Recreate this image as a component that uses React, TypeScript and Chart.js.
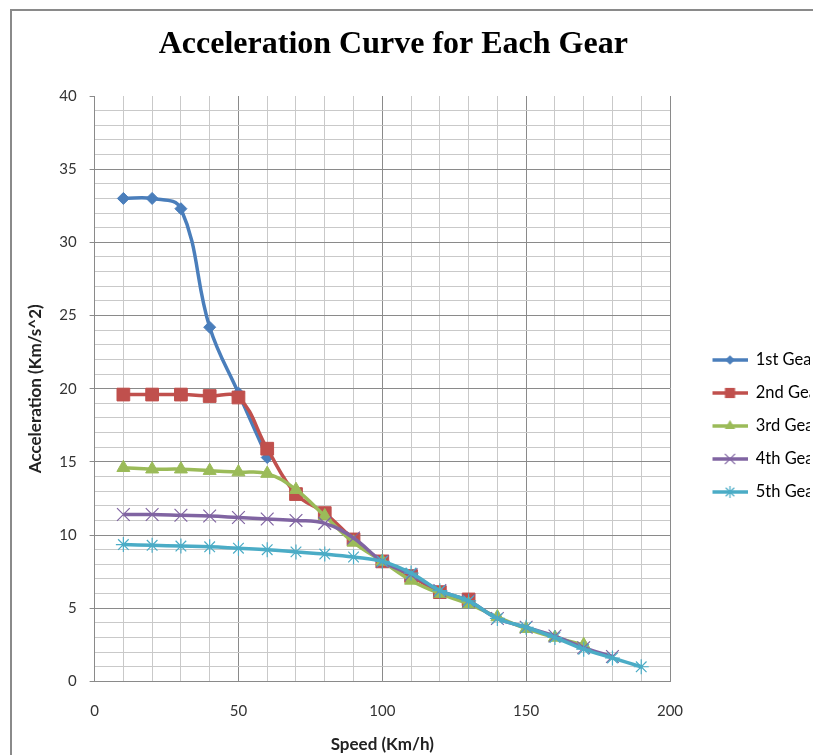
import React, { useEffect, useRef } from 'react';
import { Chart, registerables } from 'chart.js';

Chart.register(...registerables);

// ---- data ----
const speeds = [10, 20, 30, 40, 50, 60, 70, 80, 90, 100, 110, 120, 130, 140, 150, 160, 170, 180, 190];
const gear1 = [33.0, 33.0, 32.3, 24.2, 19.7, 15.3];
const gear2 = [19.6, 19.6, 19.6, 19.5, 19.4, 15.9, 12.8, 11.5, 9.7, 8.2, 7.2, 6.1, 5.6];
const gear3 = [14.6, 14.5, 14.5, 14.4, 14.3, 14.2, 13.1, 11.3, 9.5, 8.2, 6.9, 6.0, 5.3, 4.4, 3.6, 3.0, 2.5];
const gear4 = [11.4, 11.4, 11.35, 11.3, 11.2, 11.1, 11.0, 10.8, 9.8, 8.2, 7.3, 6.2, 5.5, 4.3, 3.7, 3.1, 2.3, 1.7];
const gear5 = [9.35, 9.3, 9.25, 9.2, 9.1, 9.0, 8.85, 8.7, 8.5, 8.2, 7.4, 6.2, 5.5, 4.3, 3.7, 3.0, 2.2, 1.6, 1.0];
const seriesNames = ['1st Gear', '2nd Gear', '3rd Gear', '4th Gear', '5th Gear'];
const seriesValues = [gear1, gear2, gear3, gear4, gear5];
const chartTitle = 'Acceleration Curve for Each Gear';
const xTitle = 'Speed (Km/h)';
const yTitle = 'Acceleration (Km/s^2)';
const xMin = 0, xMax = 200, xStep = 10, xLabelEvery = 50;
const yMin = 0, yMax = 40, yStep = 1, yLabelEvery = 5;

// ---- styles ----
const colors = ['#4A7EBB', '#C0504D', '#9BBB59', '#8064A2', '#4BACC6'];
const markerStyles = ['rectRot', 'rect', 'triangle', 'crossRot', 'star'];
const markerRadius = [6, 9, 7.5, 9, 7.5];
const markerBorder = [1, 1, 1, 1.2, 1.2];
const majorGrid = '#8a8a8a';
const minorGrid = '#c9c9c9';

function legendIcon(color: string, style: string, r: number, bw: number): HTMLCanvasElement {
  const c = document.createElement('canvas');
  c.width = 61;
  c.height = 20;
  const ctx = c.getContext('2d')!;
  const cy = 10;
  ctx.strokeStyle = color;
  ctx.lineWidth = 3.5;
  ctx.beginPath();
  ctx.moveTo(26, cy);
  ctx.lineTo(61, cy);
  ctx.stroke();
  const cx = 43.5;
  ctx.fillStyle = color;
  ctx.lineWidth = bw;
  ctx.beginPath();
  if (style === 'rectRot') {
    ctx.moveTo(cx, cy - r); ctx.lineTo(cx + r, cy); ctx.lineTo(cx, cy + r); ctx.lineTo(cx - r, cy); ctx.closePath();
    ctx.fill();
  } else if (style === 'rect') {
    const s = r * Math.SQRT1_2;
    ctx.rect(cx - s, cy - s, 2 * s, 2 * s);
    ctx.fill();
  } else if (style === 'triangle') {
    ctx.moveTo(cx, cy - r);
    ctx.lineTo(cx + r * Math.sin(2 * Math.PI / 3), cy - r * Math.cos(2 * Math.PI / 3));
    ctx.lineTo(cx + r * Math.sin(4 * Math.PI / 3), cy - r * Math.cos(4 * Math.PI / 3));
    ctx.closePath();
    ctx.fill();
  } else {
    const d = r * Math.SQRT1_2;
    ctx.moveTo(cx - d, cy - d); ctx.lineTo(cx + d, cy + d);
    ctx.moveTo(cx + d, cy - d); ctx.lineTo(cx - d, cy + d);
    if (style === 'star') {
      ctx.moveTo(cx, cy - r); ctx.lineTo(cx, cy + r);
      ctx.moveTo(cx - r, cy); ctx.lineTo(cx + r, cy);
    }
    ctx.stroke();
  }
  return c;
}

const titleShift = {
  id: 'titleShift',
  afterLayout(chart: any) {
    const t = chart.titleBlock;
    if (t) {
      t.left += 11;
      t.right += 11;
    }
  },
};

export default function App() {
  const ref = useRef<HTMLCanvasElement | null>(null);

  useEffect(() => {
    if (!ref.current) return;
    const datasets = seriesValues.map((vals, i) => ({
      label: seriesNames[i],
      data: vals.map((v, j) => ({ x: speeds[j], y: v })),
      borderColor: colors[i],
      backgroundColor: colors[i],
      borderWidth: 3.5,
      tension: 0.4,
      pointStyle: markerStyles[i] as any,
      pointRadius: markerRadius[i],
      pointBorderWidth: markerBorder[i],
      pointBackgroundColor: colors[i],
      pointBorderColor: colors[i],
      order: seriesValues.length - i,
    }));
    const icons = seriesNames.map((_, i) =>
      legendIcon(colors[i], markerStyles[i], markerRadius[i] * 0.8, markerBorder[i])
    );

    const chart = new Chart(ref.current, {
      type: 'line',
      data: { datasets },
      plugins: [titleShift],
      options: {
        animation: false,
        responsive: false,
        layout: { padding: { left: 8, right: 60, top: 0, bottom: 0 } },
        plugins: {
          title: {
            display: true,
            text: chartTitle,
            fullSize: false,
            color: '#000',
            font: { family: 'Liberation Serif', size: 32, weight: 'bold' },
            padding: { top: 15, bottom: 31.6 },
          },
          legend: {
            position: 'right',
            align: 'center',
            maxWidth: 140,
            labels: {
              usePointStyle: true,
              pointStyleWidth: 61,
              boxHeight: 16,
              padding: 16.5,
              color: '#000',
              font: { family: 'Lato', size: 16.5 },
              generateLabels: () =>
                seriesNames.map((name, i) => ({
                  text: name,
                  fillStyle: colors[i],
                  strokeStyle: colors[i],
                  lineWidth: 0,
                  pointStyle: icons[i] as any,
                  hidden: false,
                  datasetIndex: i,
                  fontColor: '#000',
                })),
            },
          },
          tooltip: { enabled: false },
        },
        scales: {
          x: {
            type: 'linear',
            min: xMin,
            max: xMax,
            border: { color: majorGrid, width: 1 },
            grid: {
              color: (ctx: any) => (ctx.tick.value % xLabelEvery === 0 ? majorGrid : minorGrid),
              tickLength: 4,
              tickColor: 'transparent',
            },
            ticks: {
              stepSize: xStep,
              autoSkip: false,
              maxRotation: 0,
              padding: 17,
              color: '#333',
              font: { family: 'Lato', size: 15 },
              callback: (v: any) => (Number(v) % xLabelEvery === 0 ? String(v) : ''),
            },
            title: {
              display: true,
              text: xTitle,
              color: '#222',
              font: { family: 'Lato', size: 17, weight: 'bold' },
              padding: { top: -3, bottom: 86.2 },
            },
          },
          y: {
            type: 'linear',
            min: yMin,
            max: yMax,
            border: { color: majorGrid, width: 1 },
            grid: {
              color: (ctx: any) =>
                ctx.tick.value === yMax ? 'transparent' : ctx.tick.value % yLabelEvery === 0 ? majorGrid : minorGrid,
              tickLength: 5,
              tickColor: (ctx: any) => (ctx.tick.value % yLabelEvery === 0 ? majorGrid : 'transparent'),
            },
            ticks: {
              stepSize: yStep,
              autoSkip: false,
              padding: 13,
              color: '#333',
              font: { family: 'Lato', size: 15 },
              callback: (v: any) => (Number(v) % yLabelEvery === 0 ? String(v) : ''),
            },
            title: {
              display: true,
              text: yTitle,
              color: '#222',
              font: { family: 'Lato', size: 17, weight: 'bold' },
              padding: { top: 5, bottom: 0.8 },
            },
          },
        },
      },
    });
    return () => chart.destroy();
  }, []);

  return (
    <div
      style={{
        position: 'fixed',
        left: 0,
        top: 0,
        width: '100vw',
        height: '100vh',
        overflow: 'hidden',
        background: '#fff',
      }}
    >
      <div
        style={{
          position: 'absolute',
          left: 10,
          top: 9,
          width: 858,
          height: 830,
          border: '2px solid #8a8a8a',
          background: '#fff',
        }}
      >
        <canvas ref={ref} width={858} height={830} style={{ display: 'block', width: 858, height: 830 }} />
      </div>
    </div>
  );
}
